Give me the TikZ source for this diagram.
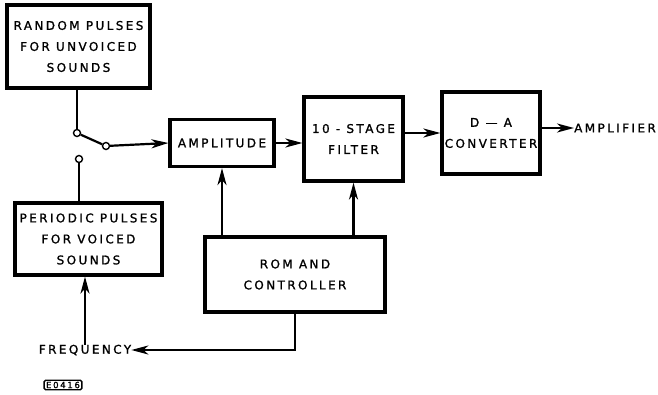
\documentclass[tikz,border=0pt]{standalone}
\usepackage{fontspec}
\newfontfamily\lblfont[LetterSpace=20,FakeBold=1.2]{DejaVu Sans}
\usetikzlibrary{arrows.meta}
\begin{document}
\begin{tikzpicture}[x=1pt,y=1pt,
  box/.style={draw,line width=3.2pt,align=center,inner sep=0pt,
    font=\lblfont\fontsize{12}{21}\selectfont},
  lbl/.style={inner sep=0pt,font=\lblfont\fontsize{12}{21}\selectfont},
  arr/.style={line width=2.2pt,-{Stealth[length=17pt,width=9pt,inset=5pt]}},
  ln/.style={line width=2.2pt},
  contact/.style={circle,draw,line width=1.4pt,fill=white,minimum size=7pt,inner sep=0pt}]
\useasboundingbox (0,0) rectangle (658,-395);
% boxes
\node[box,minimum width=143,minimum height=83] (rand) at (78.5,-46.5)
  {RANDOM PULSES\\FOR UNVOICED\\SOUNDS};
\node[box,minimum width=147,minimum height=72] (per) at (88.5,-239)
  {PERIODIC PULSES\\FOR VOICED\\SOUNDS};
\node[box,minimum width=104,minimum height=47] (amp) at (222,-143) {AMPLITUDE};
\node[box,minimum width=99,minimum height=84] (filt) at (353.5,-139)
  {10 - STAGE\\FILTER};
\node[box,minimum width=98,minimum height=82] (da) at (491,-133)
  {D — A\\CONVERTER};
\node[box,minimum width=180,minimum height=75] (rom) at (295,-274.5)
  {ROM AND\\CONTROLLER};
\node[lbl,anchor=west] (ampl) at (574,-128) {AMPLIFIER};
\node[lbl] (freq) at (85,-350) {FREQUENCY};
\node[draw,line width=1.4pt,rounded corners=1.5pt,inner xsep=2pt,inner ysep=1.5pt,
  font=\lblfont\fontsize{8.5}{9}\selectfont] (code) at (63,-385) {E0416};
% switch
\node[contact] (c1) at (77,-133) {};
\node[contact] (c2) at (79,-159) {};
\node[contact] (c3) at (106,-146) {};
\draw[ln] (rand.south -| c1) -- (c1);
\draw[ln] (c1) -- (c3);
\draw[arr] (c3) -- (amp.west);
\draw[ln] (c2) -- (c2 |- per.north);
% connectors
\draw[arr] (freq.north) -- (freq.north |- per.south);
\draw[arr] (amp.east) -- (amp.east -| filt.west);
\draw[arr] (da.west -| filt.east) -- (da.west);
\draw[arr] (da.east |- ampl.west) -- (ampl.west);
\draw[arr] (rom.north -| amp.south) -- (amp.south);
\draw[arr] (rom.north -| filt.south) -- (filt.south);
\draw[arr] (rom.south) |- (freq.east);
\end{tikzpicture}
\end{document}
